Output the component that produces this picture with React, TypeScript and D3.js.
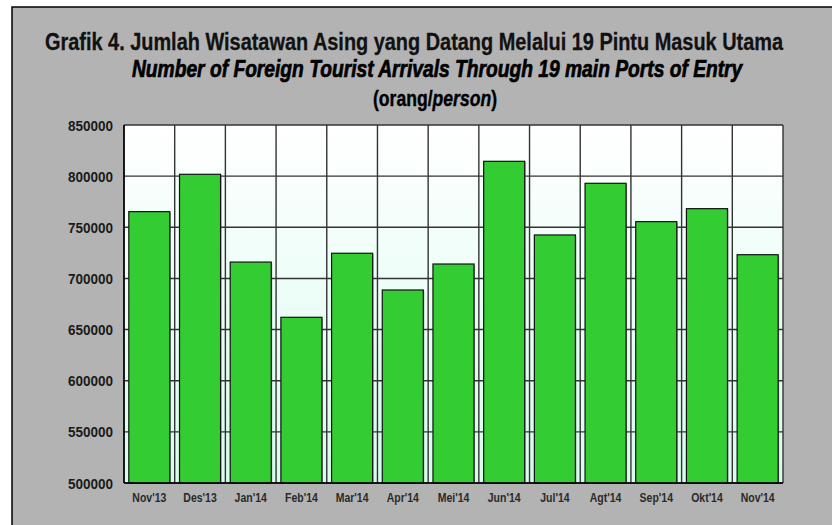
import React, { useLayoutEffect, useRef, useState } from "react";
import * as d3 from "d3";

const categories = ["Nov'13", "Des'13", "Jan'14", "Feb'14", "Mar'14", "Apr'14", "Mei'14", "Jun'14", "Jul'14", "Agt'14", "Sep'14", "Okt'14", "Nov'14"];
const arrivals = [765300, 801800, 716000, 662000, 724600, 688700, 714100, 814500, 742500, 793000, 755500, 768200, 723200];
const yTicks = [500000, 550000, 600000, 650000, 700000, 750000, 800000, 850000];

const W = 832;
const H = 525;
const plot = { left: 124, top: 125, right: 783, bottom: 483 };
const FONT = "'Liberation Sans', Arial, sans-serif";

function FitText(props: {
  x: number; y: number; width: number; anchor?: "start" | "middle" | "end";
  fontSize: number; italic?: boolean; fill?: string; heavy?: number; children: React.ReactNode;
}) {
  const ref = useRef<SVGTextElement>(null);
  const [sx, setSx] = useState(0.8);
  useLayoutEffect(() => {
    if (ref.current) {
      const w = ref.current.getComputedTextLength();
      if (w > 0) setSx(props.width / w);
    }
  }, [props.width]);
  const fill = props.fill || "#000";
  return (
    <text ref={ref} transform={`translate(${props.x},${props.y}) scale(${sx},1)`}
      textAnchor={props.anchor || "start"} fontFamily={FONT} fontWeight="bold"
      fontStyle={props.italic ? "italic" : "normal"} fontSize={props.fontSize} fill={fill}
      stroke={props.heavy ? fill : "none"} strokeWidth={props.heavy || 0}>
      {props.children}
    </text>
  );
}

export default function App() {
  const x = d3
    .scaleBand<string>()
    .domain(categories)
    .range([plot.left, plot.right])
    .paddingInner(0.19)
    .paddingOuter(0.095);
  const xb = d3.scaleBand<string>().domain(categories).range([plot.left, plot.right]);
  const y = d3.scaleLinear().domain([500000, 850000]).range([plot.bottom, plot.top]);

  const boundaries = d3.range(categories.length + 1).map((i) => plot.left + i * xb.step());

  return (
    <svg width={W} height={H} style={{ position: "absolute", left: 0, top: 0, display: "block" }}>
      <defs>
        <linearGradient id="bg" x1="0" y1="0" x2="0" y2="1">
          <stop offset="0" stopColor="#ffffff" />
          <stop offset="1" stopColor="#d8fcee" />
        </linearGradient>
      </defs>
      <rect x={0} y={0} width={W} height={H} fill="#ffffff" />
      <rect x={12} y={7} width={W} height={H} fill="#b3b3b3" stroke="#000" strokeWidth={1.5} />

      {/* titles */}
      <FitText x={45} y={50} width={738} fontSize={23} fill="#111" heavy={0.3}>
        {"Grafik  4. Jumlah Wisatawan Asing yang Datang Melalui 19 Pintu Masuk Utama"}
      </FitText>
      <FitText x={132} y={77} width={610} fontSize={23} italic heavy={0.7}>
        Number of Foreign Tourist Arrivals Through 19 main Ports of Entry
      </FitText>
      <FitText x={373} y={106} width={124} fontSize={22} heavy={0.4}>
        (orang/<tspan fontStyle="italic">person</tspan>)
      </FitText>

      {/* plot area */}
      <rect x={plot.left} y={plot.top} width={plot.right - plot.left} height={plot.bottom - plot.top} fill="url(#bg)" />
      {yTicks.map((t) => (
        <line key={"h" + t} x1={plot.left} x2={plot.right} y1={y(t)} y2={y(t)} stroke="#333" strokeWidth={1.4} />
      ))}
      {boundaries.map((bx, i) => (
        <line key={"v" + i} x1={bx} x2={bx} y1={plot.top} y2={plot.bottom} stroke="#333" strokeWidth={1.4} />
      ))}

      {/* bars */}
      {categories.map((c, i) => {
        const bx = x(c)!;
        const bw = x.bandwidth();
        const by = y(arrivals[i]);
        return (
          <g key={c}>
            <rect x={bx + 1} y={by + 1} width={bw} height={plot.bottom - by - 1} fill="#6a6a6a" opacity={0.6} />
            <rect x={bx} y={by} width={bw} height={plot.bottom - by} fill="#33cc33" stroke="#111" strokeWidth={1.2} />
          </g>
        );
      })}

      {/* axes lines */}
      <line x1={plot.left} x2={plot.left} y1={plot.top} y2={plot.bottom} stroke="#000" strokeWidth={1.5} />
      <line x1={plot.left} x2={plot.right} y1={plot.bottom} y2={plot.bottom} stroke="#000" strokeWidth={1.5} />

      {/* y labels */}
      {yTicks.map((t) => (
        <FitText key={"yl" + t} x={113} y={y(t) + 5.5} width={45} anchor="end" fontSize={15.5} fill="#1a1a1a">
          {String(t)}
        </FitText>
      ))}

      {/* x labels */}
      {categories.map((c) => (
        <text key={"xl" + c}
          transform={`translate(${xb(c)! + xb.bandwidth() / 2},502) scale(0.84,1)`}
          textAnchor="middle" fontFamily={FONT} fontWeight="bold" fontSize={12.5} fill="#2a2a2a">
          {c}
        </text>
      ))}
    </svg>
  );
}
